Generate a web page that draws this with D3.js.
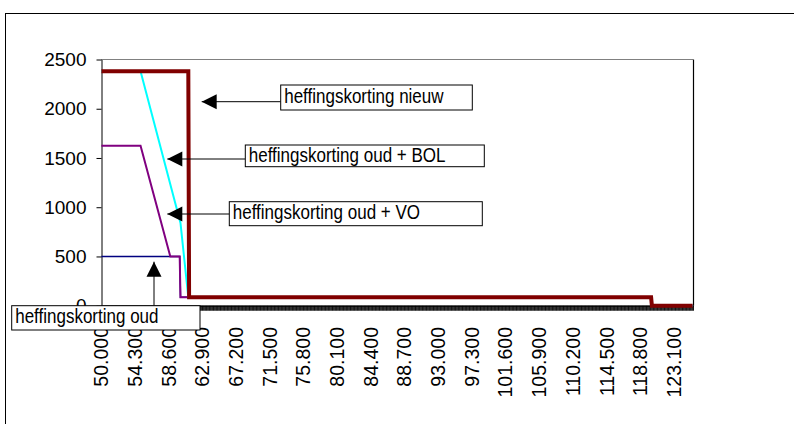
<!DOCTYPE html>
<html>
<head>
<meta charset="utf-8">
<script src="https://cdn.jsdelivr.net/npm/d3@7"></script>
<style>
  html, body { margin: 0; padding: 0; background: #fff; }
  svg { display: block; }
  text { font-family: Arial, "Liberation Sans", sans-serif; fill: #000; }
</style>
</head>
<body>
<svg id="chart" width="794" height="424"></svg>
<script>
// ---- data (income in euros, heffingskorting in euros) ----
const xTickValues = [50000, 54300, 58600, 62900, 67200, 71500, 75800, 80100, 84400,
  88700, 93000, 97300, 101600, 105900, 110200, 114500, 118800, 123100];
const yTickValues = [0, 500, 1000, 1500, 2000, 2500];

const oudIncome = [50000, 60000, 60100, 120200, 120300, 125500];
const oudValue  = [500,   500,   85,    85,     0,      0];

const oudVOIncome = [50000, 55000, 58800, 60000, 60100, 120200, 120300, 125500];
const oudVOValue  = [1625,  1625,  500,   500,   85,    85,     0,      0];

const oudBOLIncome = [50000, 55000, 60100, 61100, 120200, 120300, 125500];
const oudBOLValue  = [2380,  2380,  840,   85,    85,     0,      0];

const nieuwIncome = [50000, 61100, 61200, 120200, 120300, 125500];
const nieuwValue  = [2380,  2380,  85,    85,     0,      0];

const seriesNames = ["heffingskorting oud", "heffingskorting oud + VO",
  "heffingskorting oud + BOL", "heffingskorting nieuw"];

// ---- layout ----
const svg = d3.select("#chart");
const plot = { left: 101, right: 693, top: 59.5, bottom: 305.7 };
const catFirst = 49950, catLast = 125550, catStep = 100;

const x = d3.scaleLinear().domain([catFirst, catLast]).range([plot.left, plot.right]);
const y = d3.scaleLinear().domain([0, 2500]).range([plot.bottom, plot.top]);

const nl = d3.formatLocale({ decimal: ",", thousands: ".", grouping: [3], currency: ["€", ""] });
const fmtX = nl.format(",.0f");

// outer frame
svg.append("rect").attr("x", 5.5).attr("y", 13.5).attr("width", 820).attr("height", 420)
  .attr("fill", "none").attr("stroke", "#000").attr("stroke-width", 1);

// plot border: top grey, right black
svg.append("line").attr("x1", plot.left).attr("x2", plot.right)
  .attr("y1", plot.top).attr("y2", plot.top).attr("stroke", "#808080").attr("stroke-width", 1);
svg.append("line").attr("x1", plot.right + 0.5).attr("x2", plot.right + 0.5)
  .attr("y1", plot.top).attr("y2", plot.bottom).attr("stroke", "#000").attr("stroke-width", 1.2);

// y axis
const yAxis = svg.append("g").attr("transform", `translate(${plot.left + 0.5},0)`)
  .call(d3.axisLeft(y).tickValues(yTickValues).tickSize(5).tickSizeOuter(0).tickPadding(10)
    .tickFormat(d3.format("d")));
yAxis.selectAll("text").attr("font-size", "19px").style("font-family", "Arial, 'Liberation Sans', sans-serif");
yAxis.select(".domain").attr("stroke", "#000");
yAxis.selectAll(".tick line").attr("stroke", "#000");

// x axis: category boundary ticks
const boundaries = d3.range(catFirst, catLast + 1, catStep);
const xAxis = svg.append("g").attr("transform", `translate(0,${plot.bottom})`)
  .call(d3.axisBottom(x).tickValues(boundaries).tickSize(5).tickSizeOuter(0).tickFormat(""));
xAxis.select(".domain").attr("stroke", "#000").attr("stroke-width", 1.2);
xAxis.selectAll(".tick line").attr("stroke", "#000").attr("stroke-width", 0.9);

// x labels
const xLab = svg.append("g");
xLab.selectAll("text").data(xTickValues).join("text")
  .attr("transform", d => `translate(${x(d)},327) rotate(-90)`)
  .attr("text-anchor", "end")
  .attr("dy", "0.36em")
  .attr("font-size", "19.5px")
  .text(d => fmtX(d));

// series lines
const line = d3.line().x(d => x(d[0])).y(d => y(d[1])).curve(d3.curveLinear);
const series = [
  { name: seriesNames[0], inc: oudIncome, val: oudValue, color: "#000080", w: 1.5 },
  { name: seriesNames[1], inc: oudVOIncome, val: oudVOValue, color: "#800080", w: 2 },
  { name: seriesNames[2], inc: oudBOLIncome, val: oudBOLValue, color: "#00FFFF", w: 2 },
  { name: seriesNames[3], inc: nieuwIncome, val: nieuwValue, color: "#800000", w: 4 }
];
svg.append("g").selectAll("path").data(series).join("path")
  .attr("d", s => line(s.inc.map((v, i) => [v, s.val[i]])))
  .attr("fill", "none")
  .attr("stroke", s => s.color)
  .attr("stroke-width", s => s.w)
  .attr("stroke-linejoin", "miter");

// annotations (layout in pixels)
const annotations = [
  { text: seriesNames[3], box: [280.7, 85, 191.6, 25], base: 18.3, line: [280.7, 101.7], tip: [201.7, 101.7], dir: "left" },
  { text: seriesNames[2], box: [245.3, 145, 239, 21.7], base: 16.7, line: [245.3, 159], tip: [167.3, 159], dir: "left" },
  { text: seriesNames[1], box: [229.3, 201.7, 253, 24], base: 16.8, line: [229.3, 214], tip: [167.3, 214], dir: "left" },
  { text: seriesNames[0], box: [11.7, 305.7, 188.3, 24.3], base: 17.6, line: [154, 305.7], tip: [154, 261.7], dir: "up" }
];
const ag = svg.append("g");
annotations.forEach(a => {
  ag.append("line").attr("x1", a.line[0]).attr("y1", a.line[1])
    .attr("x2", a.tip[0]).attr("y2", a.tip[1]).attr("stroke", "#000").attr("stroke-width", 1);
  const L = 15, H = 7.5;
  let pts;
  if (a.dir === "left") {
    pts = [[a.tip[0], a.tip[1]], [a.tip[0] + L, a.tip[1] - H], [a.tip[0] + L, a.tip[1] + H]];
  } else {
    pts = [[a.tip[0], a.tip[1]], [a.tip[0] - H, a.tip[1] + L], [a.tip[0] + H, a.tip[1] + L]];
  }
  ag.append("polygon").attr("points", pts.map(p => p.join(",")).join(" ")).attr("fill", "#000");
  ag.append("rect").attr("x", a.box[0]).attr("y", a.box[1]).attr("width", a.box[2]).attr("height", a.box[3])
    .attr("fill", "#fff").attr("stroke", "#000").attr("stroke-width", 1);
  ag.append("text")
    .attr("transform", `translate(${a.box[0] + 3.5},${a.box[1] + a.base}) scale(0.872,1)`)
    .attr("font-size", "19.5px")
    .text(a.text);
});
</script>
</body>
</html>
